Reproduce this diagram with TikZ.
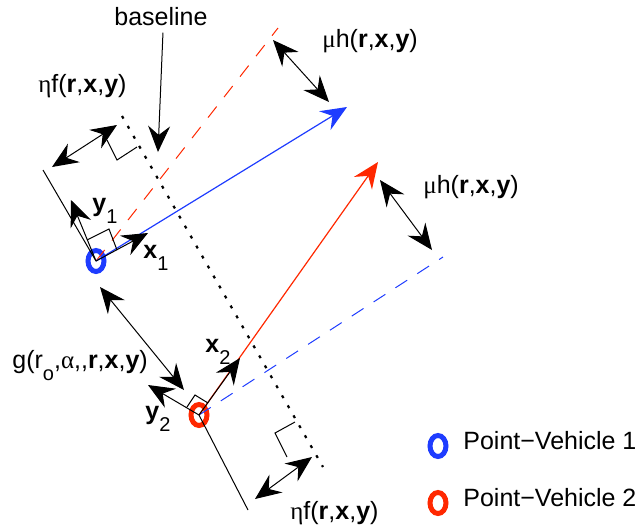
\documentclass[tikz,border=0pt]{standalone}
\usepackage{fontspec}
\setmainfont{Liberation Sans}
\newfontfamily\greekfont{Liberation Serif}
\usetikzlibrary{arrows.meta, shapes.geometric}

\definecolor{vblue}{RGB}{30,60,255}
\definecolor{vred}{RGB}{255,40,0}
\newcommand{\rxy}{(\textbf{r},\textbf{x},\textbf{y})}
\newcommand{\lowidx}[1]{\raisebox{-6pt}{\fontsize{10}{10}\selectfont #1}}

\begin{document}
\begin{tikzpicture}[
    x=0.5pt, y=-0.5pt,
    >={Stealth[length=13pt, width=11pt, inset=4.5pt]},
    lbl/.style={font=\fontsize{12.5}{14}\selectfont, inner sep=0pt, anchor=base west},
    ring/.style={ellipse, line width=2.5pt, minimum width=8pt, minimum height=10.5pt, inner sep=0pt},
    ring blue/.style={ring, draw=vblue},
    ring red/.style={ring, draw=vred},
    thin/.style={line width=0.5pt},
    axis/.style={->, thin},
    dim/.style={<->, thin},
    vec/.style={->, line width=0.6pt},
    guide/.style={dash pattern=on 7pt off 6pt, line width=0.5pt},
    dots/.style={dash pattern=on 1.5pt off 4.25pt, line width=1.1pt}
  ]
    \useasboundingbox (0,0) rectangle (644,527);

    % vehicles
    \node[ring blue] (v1) at (96,261) {};
    \node[ring red] (v2) at (199,415) {};

    % baseline
    \coordinate (b1) at (122,116);
    \coordinate (b2) at (323,467);
    \draw[dots] (b1) -- (b2);
    \node[lbl] (basetxt) at (114,25) {baseline};
    \coordinate (bpt) at (158,152);
    \draw[axis] ([xshift=1pt, yshift=-3.5pt]basetxt.south) -- (bpt);

    % velocity vectors and their guides
    \coordinate (t1) at (347,107);
    \coordinate (t2) at (378,162);
    \coordinate (g1) at (278,28);
    \coordinate (g2) at (443,257);
    \draw[guide, vred] (v1.center) -- (g1);
    \draw[guide, vblue] (v2.center) -- (g2);
    \draw[vec, vblue] (v1.center) -- (t1);
    \draw[vec, vred] (v2.center) -- (t2);

    % frame of vehicle 1
    \coordinate (p1) at (43,170);
    \coordinate (x1tip) at (148,233);
    \coordinate (y1tip) at (71,200);
    \draw[thin] (v1.center) -- (p1);
    \draw[axis] (v1.center) -- (x1tip);
    \draw[axis] (v1.center) -- (y1tip);
    \draw[thin] (87,240) -- (109,229) -- (117,250);
    \node[lbl] (x1lbl) at (143,258) {\textbf{x}\lowidx{1}};
    \node[lbl] (y1lbl) at (92,211) {\textbf{y}\lowidx{1}};

    % frame of vehicle 2
    \coordinate (p2) at (248,510);
    \coordinate (x2tip) at (240,358);
    \coordinate (y2tip) at (148,385);
    \draw[thin] (v2.center) -- (p2);
    \draw[axis] (v2.center) -- (x2tip);
    \draw[axis] (v2.center) -- (y2tip);
    \draw[thin] (187,407) -- (195,395) -- (208,403);
    \node[lbl] (x2lbl) at (205,352) {\textbf{x}\lowidx{2}};
    \node[lbl] (y2lbl) at (145,419) {\textbf{y}\lowidx{2}};

    % right angles on the baseline
    \draw[thin] (107,140) -- (117,160) -- (137,147);
    \draw[thin] (295,422) -- (275,433) -- (287,457);

    % distances
    \coordinate (f1a) at (52,167);
    \coordinate (f1b) at (117,125);
    \draw[dim] (f1a) -- (f1b);
    \node[lbl] (f1lbl) at (38,92) {{\greekfont η}f\rxy};

    \coordinate (f2a) at (255,499);
    \coordinate (f2b) at (312,457);
    \draw[dim] (f2a) -- (f2b);
    \node[lbl] (f2lbl) at (290,519) {{\greekfont η}f\rxy};

    \coordinate (h1a) at (273,40);
    \coordinate (h1b) at (329,102);
    \draw[dim] (h1a) -- (h1b);
    \node[lbl] (h1lbl) at (322,47) {{\greekfont μ}h\rxy};

    \coordinate (h2a) at (380,180);
    \coordinate (h2b) at (432,250);
    \draw[dim] (h2a) -- (h2b);
    \node[lbl] (h2lbl) at (423,193) {{\greekfont μ}h\rxy};

    \coordinate (ga) at (100,287);
    \coordinate (gb) at (184,390);
    \draw[dim] (ga) -- (gb);
    \node[lbl] (glbl) at (12,368) {g(r\lowidx{o},{\greekfont α}{,}{,}\textbf{r},\textbf{x},\textbf{y})};

    % legend
    \node[ring blue] (key1) at (438,446) {};
    \node[lbl] (key1lbl) at (463,449) {Point−Vehicle 1};
    \node[ring red] (key2) at (438,503) {};
    \node[lbl] (key2lbl) at (463,506) {Point−Vehicle 2};
  \end{tikzpicture}
\end{document}
